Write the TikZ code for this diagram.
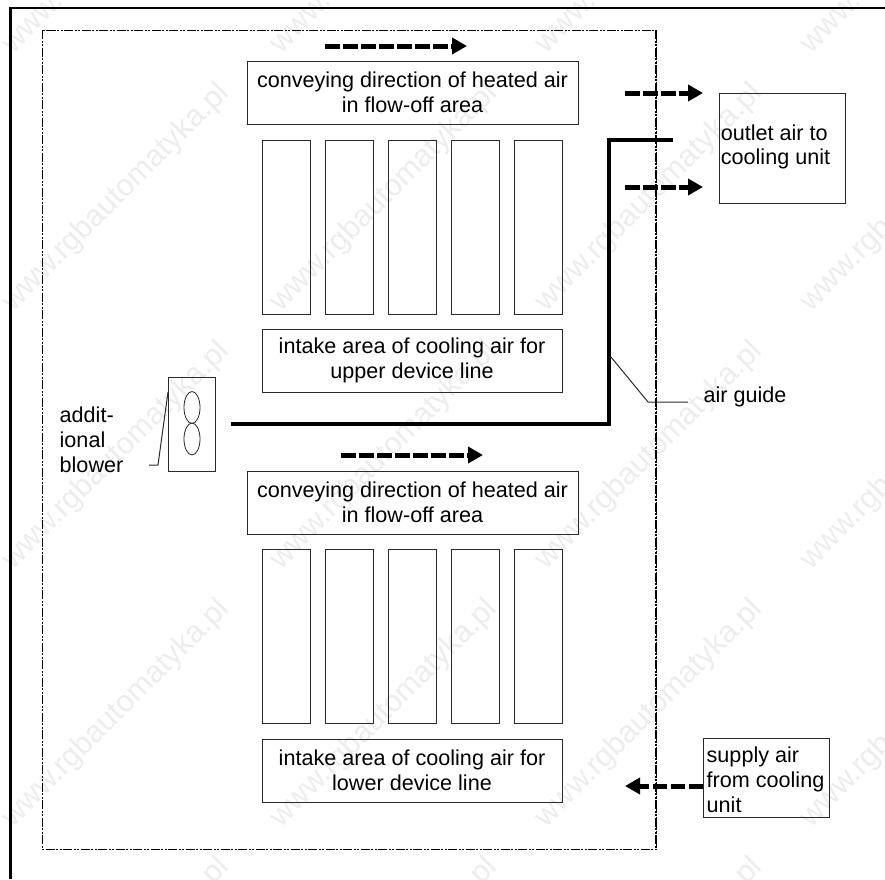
\documentclass[tikz,border=0pt]{standalone}
\usepackage{fontspec}
\setmainfont{Liberation Sans}
\usetikzlibrary{arrows.meta}
\usetikzlibrary{positioning}
\usetikzlibrary{shapes.geometric}

\definecolor{linegray}{HTML}{2A2A2A}
\definecolor{markgray}{HTML}{EDEDED}

\tikzset{
  textbox/.style={draw=linegray, line width=1pt, inner sep=0pt, align=center,
    font=\fontsize{21.6}{24.8}\selectfont},
  slotbox/.style={draw=linegray, line width=1pt, minimum width=48pt, minimum height=174pt, inner sep=0pt},
  plaintext/.style={inner sep=0pt, align=left, font=\fontsize{21.6}{24.8}\selectfont},
  flowarrow/.style={line width=5pt, dash pattern=on 14.5pt off 3.5pt,
    -{Triangle[length=15pt,width=16pt]}},
  leaderline/.style={line width=1pt, linegray},
  airguide/.style={line width=4.6pt, miter limit=10},
  fanloop/.style={draw=linegray, line width=0.8pt, ellipse, minimum width=16pt, minimum height=32pt, inner sep=0pt},
  framed/.style={line width=1pt, dash pattern=on 9pt off 1.5pt on 2pt off 1.5pt on 2pt off 1.5pt},
  markstyle/.style={rotate=45, markgray, inner sep=0pt, font=\fontsize{30.5}{30.5}\selectfont}
}

\begin{document}
\begin{tikzpicture}[x=1pt,y=-1pt]
    \useasboundingbox (0,0) rectangle (885,879);

    % watermark
    \foreach \row/\ypos in {0/-60, 1/198, 2/456, 3/714, 4/972}
      \foreach \col/\xpos in {0/116, 1/384, 2/649, 3/914}
        \node[markstyle] (mark\row\col) at (\xpos,\ypos) {www.rgbautomatyka.pl};

    % page edge and cabinet outline
    \coordinate (edgea) at (10.5,879);
    \coordinate (edgeb) at (10.5,8);
    \coordinate (edgec) at (885,8);
    \draw[line width=2.6pt] (edgea) -- (edgeb) -- (edgec);

    \coordinate (cabnw) at (42,30);
    \coordinate (cabne) at (656,30);
    \coordinate (cabse) at (656,849);
    \draw[framed] (cabnw) rectangle (cabse);
    \draw[framed, line width=1.8pt] (cabne) -- (cabse);

    % upper line
    \node[textbox, minimum width=331pt, minimum height=63pt] (headu) at (412.5,92.5) {conveying direction of heated air\\in flow-off area};
    \foreach \xpos/\n in {286/1, 349/2, 412/3, 475/4, 538/5}
      \node[slotbox] (upper\n) at (\xpos,227) {};
    \node[textbox, minimum width=300pt, minimum height=63pt] (intakeu) at (412,360.5) {intake area of cooling air for\\upper device line};

    % lower line
    \node[textbox, minimum width=331pt, minimum height=63pt] (headl) at (412.5,502.5) {conveying direction of heated air\\in flow-off area};
    \foreach \xpos/\n in {286/1, 349/2, 412/3, 475/4, 538/5}
      \node[slotbox] (lower\n) at (\xpos,636.5) {};
    \node[textbox, minimum width=300pt, minimum height=63pt] (intakel) at (412,770.5) {intake area of cooling air for\\lower device line};

    % conveying arrows
    \coordinate (flowua) at (325,46);
    \coordinate (flowub) at (467,46);
    \coordinate (flowla) at (341,455);
    \coordinate (flowlb) at (483,455);
    \draw[flowarrow] (flowua) -- (flowub);
    \draw[flowarrow] (flowla) -- (flowlb);

    % outlet and supply
    \node[textbox, minimum width=126pt, minimum height=110pt] (outlet) at (782,148.5) {};
    \node[plaintext] (outlettxt) at (775.5,147) {outlet air to\\cooling unit};
    \coordinate (outa) at (625,93);
    \coordinate (outb) at (703,93);
    \coordinate (outc) at (625,187);
    \coordinate (outd) at (703,187);
    \draw[flowarrow] (outa) -- (outb);
    \draw[flowarrow] (outc) -- (outd);

    \node[textbox, minimum width=126pt, minimum height=79pt] (supply) at (766.5,778) {};
    \node[plaintext] (supplytxt) at (765.5,780) {supply air\\from cooling\\unit};
    \coordinate (supa) at (625,786);
    \draw[flowarrow] (supply.west |- supa) -- (supa);

    % air guide
    \coordinate (guidea) at (231,424);
    \coordinate (guideb) at (609,424);
    \coordinate (guidec) at (609,140);
    \coordinate (guided) at (673,140);
    \draw[airguide] (guidea) -- (guideb) -- (guidec) -- (guided);

    \node[plaintext] (guidetxt) at (745,397) {air guide};
    \coordinate (leada) at (611,357);
    \coordinate (leadb) at (648,402);
    \draw[leaderline] (leada) -- (leadb) -- ++(40,0) coordinate (leadc);

    % blower
    \node[textbox, minimum width=47pt, minimum height=94pt] (blower) at (191.5,424) {};
    \node[fanloop] (fanu) at (192,407.5) {};
    \node[fanloop] (fanl) at (192,439) {};
    \node[plaintext] (blowertxt) at (91.5,440) {addit-\\ional\\blower};
    \coordinate (leadd) at (149,465);
    \coordinate (leade) at (158,465);
    \coordinate (leadf) at (168,392);
    \draw[leaderline] (leadd) -- (leade) -- (leadf);
\end{tikzpicture}
\end{document}
